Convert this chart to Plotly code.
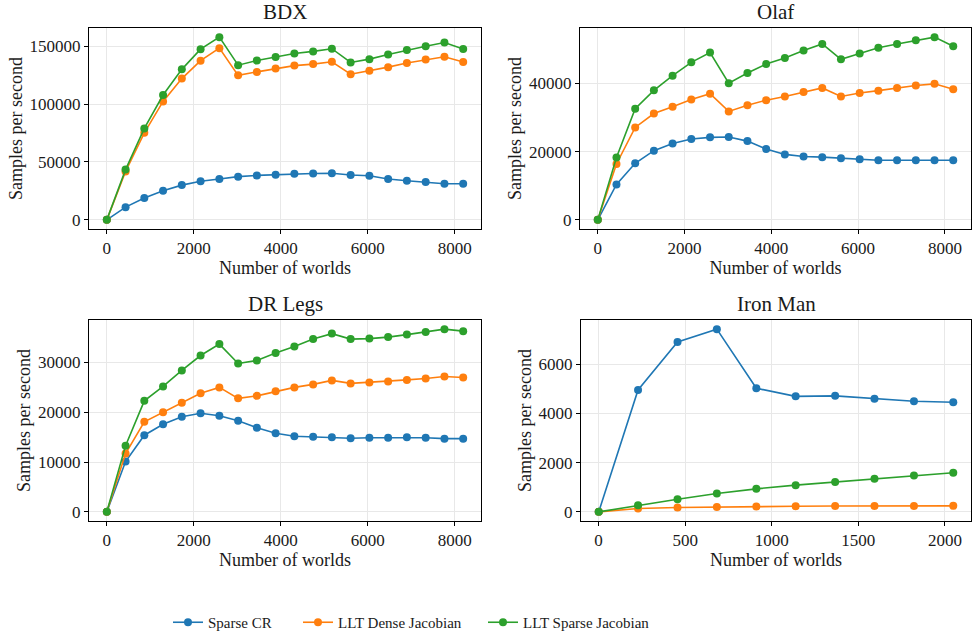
import plotly.graph_objects as go

# ---------------- data ----------------
worlds = [1, 432, 863, 1294, 1725, 2156, 2588, 3019, 3450, 3881, 4312, 4743,
          5174, 5605, 6036, 6467, 6898, 7330, 7761, 8192]
worlds_ironman = [1, 228, 456, 683, 911, 1138, 1366, 1593, 1821, 2048]

series_names = ["Sparse CR", "LLT Dense Jacobian", "LLT Sparse Jacobian"]
colors = ["#1f77b4", "#ff7f0e", "#2ca02c"]

bdx_sparse_cr = [0, 11000, 18900, 25100, 30000, 33300, 35300, 37300, 38400, 39000,
                 39900, 40000, 40300, 38800, 38100, 35300, 33800, 32700, 31200, 31200]
bdx_llt_dense = [0, 41800, 75200, 102300, 122000, 137500, 148300, 124800, 127800, 130700,
                 133200, 134500, 136500, 125800, 128700, 131900, 135500, 138400, 140900, 136400]
bdx_llt_sparse = [0, 43400, 79000, 107800, 130000, 147400, 157800, 133600, 137600, 140600,
                  143700, 145500, 147800, 135900, 138800, 142800, 146600, 150000, 153200, 147500]

olaf_sparse_cr = [0, 10400, 16600, 20300, 22400, 23700, 24200, 24300, 23100, 20800,
                  19200, 18600, 18400, 18100, 17800, 17500, 17500, 17500, 17500, 17500]
olaf_llt_dense = [0, 16400, 27100, 31200, 33200, 35300, 37000, 31800, 33600, 35100,
                  36200, 37500, 38700, 36200, 37200, 37900, 38700, 39400, 39900, 38300]
olaf_llt_sparse = [0, 18300, 32600, 38000, 42300, 46200, 49100, 40100, 43100, 45700,
                   47500, 49700, 51600, 47100, 48800, 50500, 51600, 52700, 53600, 50900]

drlegs_sparse_cr = [0, 10100, 15400, 17600, 19100, 19800, 19300, 18300, 16900, 15800,
                    15200, 15100, 15000, 14800, 14900, 14900, 15000, 14900, 14700, 14700]
drlegs_llt_dense = [0, 11700, 18100, 20000, 21900, 23800, 25000, 22800, 23300, 24200,
                    25000, 25600, 26400, 25800, 26000, 26200, 26500, 26800, 27200, 27000]
drlegs_llt_sparse = [0, 13300, 22300, 25200, 28400, 31400, 33700, 29800, 30400, 31900,
                     33200, 34700, 35800, 34700, 34800, 35100, 35600, 36100, 36700, 36300]

ironman_sparse_cr = [0, 4950, 6900, 7420, 5020, 4690, 4710, 4590, 4490, 4450]
ironman_llt_dense = [0, 135, 175, 200, 217, 228, 236, 240, 242, 244]
ironman_llt_sparse = [0, 270, 515, 745, 935, 1085, 1210, 1345, 1480, 1590]

panel_titles = ["BDX", "Olaf", "DR Legs", "Iron Man"]
x_ticks_main = [0, 2000, 4000, 6000, 8000]
x_ticks_ironman = [0, 500, 1000, 1500, 2000]
y_dticks = [50000, 20000, 10000, 2000]

panels = [
    (worlds, [bdx_sparse_cr, bdx_llt_dense, bdx_llt_sparse], x_ticks_main),
    (worlds, [olaf_sparse_cr, olaf_llt_dense, olaf_llt_sparse], x_ticks_main),
    (worlds, [drlegs_sparse_cr, drlegs_llt_dense, drlegs_llt_sparse], x_ticks_main),
    (worlds_ironman, [ironman_sparse_cr, ironman_llt_dense, ironman_llt_sparse], x_ticks_ironman),
]

# ---------------- layout geometry (pixels) ----------------
W, H = 973, 639
boxes = [
    (89, 481, 28, 229),
    (580, 971, 28, 229),
    (89, 481, 320, 521),
    (581, 971, 320, 521),
]
legend_x_px = [168, 298, 483]

FONT = "Liberation Serif, DejaVu Serif, serif"
TXT = "#1a1a1a"

fig = go.Figure()
layout = dict(
    width=W, height=H,
    margin=dict(l=0, r=0, t=0, b=0),
    paper_bgcolor="white", plot_bgcolor="white",
    font=dict(family=FONT, size=16, color=TXT),
    showlegend=True,
    annotations=[],
)

legend_keys = ["legend", "legend2", "legend3"]
for k, key in enumerate(legend_keys):
    layout[key] = dict(orientation="h", x=legend_x_px[k] / W, xanchor="left",
                       y=0, yanchor="bottom",
                       font=dict(family=FONT, size=15, color=TXT),
                       bgcolor="rgba(0,0,0,0)", borderwidth=0)


def pad_range(lo, hi, frac=0.05):
    span = hi - lo
    return [lo - frac * span, hi + frac * span]


for i, (xs, ys_list, xt) in enumerate(panels):
    idx = "" if i == 0 else str(i + 1)
    l, r, t, b = boxes[i]
    xdom = [l / W, r / W]
    ydom = [(H - b) / H, (H - t) / H]
    for s, ys in enumerate(ys_list):
        fig.add_trace(go.Scatter(
            x=xs, y=ys, mode="lines+markers", name=series_names[s],
            line=dict(color=colors[s], width=1.6),
            marker=dict(color=colors[s], size=8),
            xaxis="x" + idx, yaxis="y" + idx,
            showlegend=(i == 0), legend=legend_keys[s],
        ))
    all_y = [v for ys in ys_list for v in ys]
    axis_common = dict(
        showline=True, mirror=True, linecolor="black", linewidth=1,
        showgrid=True, gridcolor="#e8e8e8", gridwidth=0.8,
        zeroline=False, ticks="outside", ticklen=4, tickwidth=0.8, tickcolor="black",
        tickfont=dict(family=FONT, size=17, color=TXT), automargin=False,
    )
    layout["xaxis" + idx] = dict(
        axis_common, domain=xdom, range=pad_range(min(xs), max(xs)),
        tickvals=xt, tickformat="d", anchor="y" + idx,
        title=dict(text="Number of worlds", font=dict(family=FONT, size=18, color=TXT), standoff=2),
    )
    layout["yaxis" + idx] = dict(
        axis_common, domain=ydom, range=pad_range(min(all_y), max(all_y)),
        dtick=y_dticks[i], tick0=0, tickformat="d", anchor="x" + idx,
        title=dict(text="Samples per second", font=dict(family=FONT, size=18, color=TXT), standoff=2),
    )
    layout["annotations"].append(dict(
        text=panel_titles[i], x=(xdom[0] + xdom[1]) / 2, y=ydom[1], xref="paper", yref="paper",
        xanchor="center", yanchor="bottom", yshift=2, showarrow=False,
        font=dict(family=FONT, size=21, color=TXT),
    ))

fig.update_layout(**layout)
fig.write_html("out.html", config={"displayModeBar": False},
               post_script="document.body.style.margin='0';")
